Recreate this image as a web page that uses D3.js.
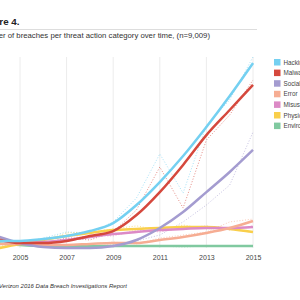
<!DOCTYPE html>
<html>
<head>
<meta charset="utf-8">
<script src="https://cdn.jsdelivr.net/npm/d3@7"></script>
<style>
  body { margin: 0; background: #fff; }
  svg { display: block; font-family: "Liberation Sans", Arial, sans-serif; }
</style>
</head>
<body>
<svg></svg>
<script>
var WIDTH = 300;
var HEIGHT = 300;

var years = [2004, 2005, 2006, 2007, 2008, 2009, 2010, 2011, 2012, 2013, 2014, 2015];
var tickYears = [2005, 2007, 2009, 2011, 2013, 2015];
var categories = ["Hacking", "Malware", "Social", "Error", "Misuse", "Physical", "Environmental"];
var colors = ["#74d0f1", "#d5483d", "#a49cd0", "#f6ad93", "#dc8ac6", "#f9cf4b", "#80c9a0"];

// smoothed trend per category
var hackingTrend = [32, 32, 42, 58, 84, 126, 221, 342, 479, 632, 795, 968];
var malwareTrend = [42, 21, 21, 32, 58, 84, 168, 289, 432, 589, 721, 853];
var socialTrend = [58, 21, 0, -5, -5, 5, 37, 100, 184, 289, 395, 511];
var errorTrend = [16, 16, 11, 11, 16, 21, 21, 37, 53, 74, 100, 137];
var misuseTrend = [37, 21, 26, 37, 53, 68, 79, 89, 95, 100, 100, 105];
var physicalTrend = [-8, 16, 37, 58, 74, 89, 95, 100, 105, 105, 95, 79];
var environmentalTrend = [20, 10, 5, 5, 5, 5, 5, 5, 5, 5, 5, 5];

// yearly counts (dotted)
var hackingRaw = [37, 21, 47, 79, 74, 132, 258, 490, 284, 642, 774, 1000];
var malwareRaw = [37, 16, 16, 47, 37, 79, 195, 421, 205, 563, 695, 879];
var socialRaw = [58, 16, 0, 0, 5, 11, 32, 63, 132, 221, 326, 605];
var errorRaw = [16, 11, 16, 5, 16, 26, 16, 47, 63, 79, 132, 147];
var misuseRaw = [47, 16, 21, 47, 58, 58, 89, 79, 100, 111, 89, 111];
var physicalRaw = [0, 26, 32, 74, 79, 95, 111, 89, 116, 95, 100, 74];
var environmentalRaw = [16, 11, 5, 5, 0, 5, 5, 5, 0, 5, 5, 5];

var trends = [hackingTrend, malwareTrend, socialTrend, errorTrend, misuseTrend, physicalTrend, environmentalTrend];
var raws = [hackingRaw, malwareRaw, socialRaw, errorRaw, misuseRaw, physicalRaw, environmentalRaw];

var svg = d3.select("svg")
    .attr("width", WIDTH)
    .attr("height", HEIGHT);

var x = d3.scaleLinear().domain([2005, 2015]).range([20, 253]);
var y = d3.scaleLinear().domain([0, 1000]).range([247, 57]);

// title block (cropped on the left)
svg.append("text")
    .attr("x", 19.5).attr("y", 25)
    .attr("text-anchor", "end")
    .attr("font-size", 9.8).attr("font-weight", "bold")
    .attr("fill", "#222")
    .text("Figure 4.");

svg.append("line")
    .attr("x1", 0).attr("x2", 257)
    .attr("y1", 29.5).attr("y2", 29.5)
    .attr("stroke", "#ddd").attr("stroke-width", 1);

svg.append("text")
    .attr("x", 210).attr("y", 37.5)
    .attr("text-anchor", "end")
    .attr("font-size", 7.75).attr("fill", "#333")
    .text("Number of breaches per threat action category over time, (n=9,009)");

// grid
svg.append("g")
    .selectAll("line")
    .data(tickYears)
    .enter()
    .append("line")
    .attr("x1", function(d) { return x(d); })
    .attr("x2", function(d) { return x(d); })
    .attr("y1", 57).attr("y2", 248)
    .attr("stroke", "#ececec").attr("stroke-width", 1);

// x axis
var xAxis = svg.append("g")
    .attr("transform", "translate(0,252)")
    .call(d3.axisBottom(x).tickValues(tickYears).tickFormat(d3.format("d")).tickSize(0));
xAxis.select(".domain").remove();
xAxis.selectAll("text")
    .attr("font-size", 7)
    .attr("fill", "#444")
    .attr("font-family", "\"Liberation Sans\", Arial, sans-serif");

var trendLine = d3.line()
    .x(function(d, i) { return x(years[i]); })
    .y(function(d) { return y(d); })
    .curve(d3.curveMonotoneX);

var rawLine = d3.line()
    .x(function(d, i) { return x(years[i]); })
    .y(function(d) { return y(d); });

svg.append("g")
    .selectAll("path")
    .data(raws)
    .enter()
    .append("path")
    .attr("d", rawLine)
    .attr("fill", "none")
    .attr("stroke", function(d, i) { return colors[i]; })
    .attr("stroke-width", 0.8)
    .attr("stroke-dasharray", "1,1.8")
    .attr("opacity", 0.8);

// draw bottom categories first so hacking sits on top
svg.append("g")
    .selectAll("path")
    .data(trends.slice().reverse())
    .enter()
    .append("path")
    .attr("d", trendLine)
    .attr("fill", "none")
    .attr("stroke", function(d, i) { return colors[colors.length - 1 - i]; })
    .attr("stroke-width", 2.5);

// legend
var legend = svg.append("g")
    .selectAll("g")
    .data(categories)
    .enter()
    .append("g")
    .attr("transform", function(d, i) { return "translate(274," + (59 + i * 10.6) + ")"; });

legend.append("rect")
    .attr("width", 6.5).attr("height", 6.5)
    .attr("fill", function(d, i) { return colors[i]; });

legend.append("text")
    .attr("x", 9.5).attr("y", 5.6)
    .attr("font-size", 6.3)
    .attr("fill", "#444")
    .text(function(d) { return d; });

// source
svg.append("text")
    .attr("x", 127).attr("y", 288)
    .attr("text-anchor", "end")
    .attr("font-size", 6).attr("font-style", "italic")
    .attr("fill", "#333")
    .text("Source: Verizon 2016 Data Breach Investigations Report");
</script>
</body>
</html>
